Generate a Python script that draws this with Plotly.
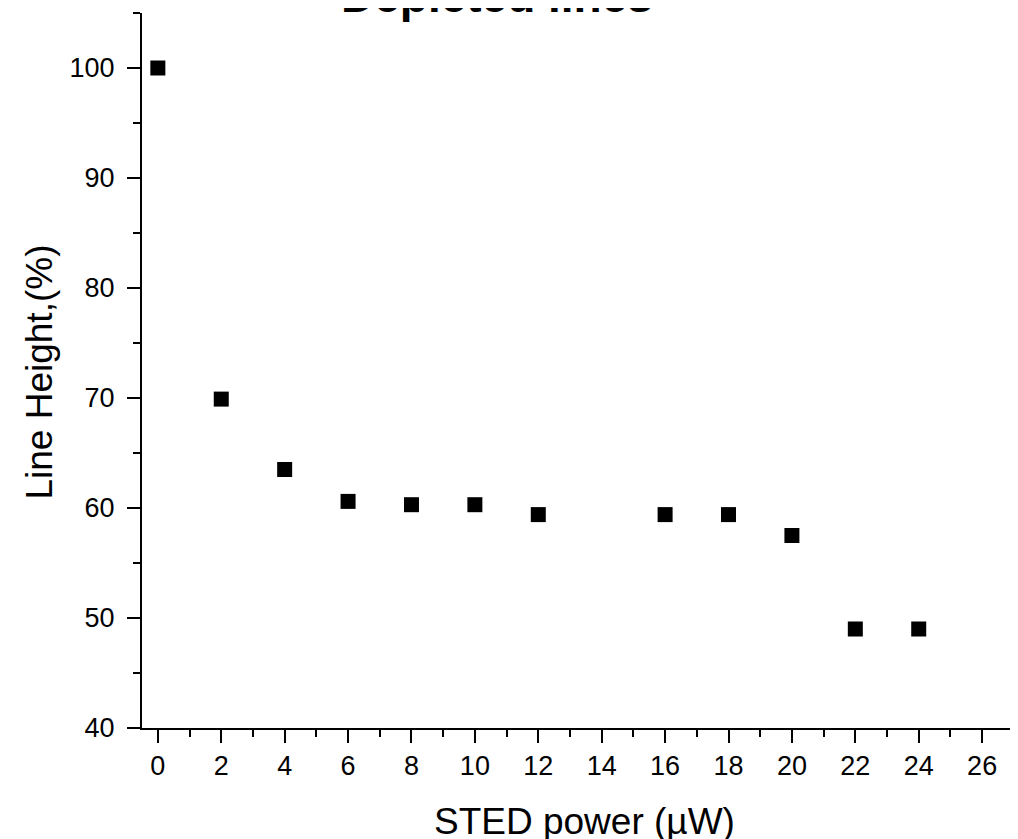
import plotly.graph_objects as go

sted_power = [0, 2, 4, 6, 8, 10, 12, 16, 18, 20, 22, 24]
line_height = [100, 69.9, 63.5, 60.6, 60.3, 60.3, 59.4, 59.4, 59.4, 57.5, 49.0, 49.0]

x_ticks = list(range(0, 27, 2))
y_ticks = [40, 50, 60, 70, 80, 90, 100]

FONT = "Liberation Sans, Arial, sans-serif"

fig = go.Figure()
fig.add_trace(go.Scatter(
    x=sted_power, y=line_height, mode="markers",
    marker=dict(symbol="square", size=15, color="black", line=dict(width=0)),
    cliponaxis=False, showlegend=False,
))

axis_common = dict(
    showline=True, linecolor="black", linewidth=2,
    ticks="outside", ticklen=13, tickwidth=2, tickcolor="black",
    showgrid=False, zeroline=False, mirror=False, automargin=False,
    tickfont=dict(family=FONT, size=27, color="black"),
)

fig.update_xaxes(
    range=[-0.5, 27.1], tickmode="array", tickvals=x_ticks,
    minor=dict(dtick=1, tick0=0, ticks="outside", ticklen=7, tickwidth=2, tickcolor="black"),
    **axis_common,
)
fig.update_yaxes(
    range=[40, 105], tickmode="array", tickvals=y_ticks, ticklabelstandoff=7,
    minor=dict(dtick=5, tick0=0, ticks="outside", ticklen=7, tickwidth=2, tickcolor="black"),
    **axis_common,
)

fig.add_annotation(
    text="STED power (µW)", xref="paper", yref="paper",
    x=0.506, y=-0.131, xanchor="center", yanchor="middle", showarrow=False,
    font=dict(family=FONT, size=37, color="black"),
)
fig.add_annotation(
    text="Line Height,(%)", xref="paper", yref="paper", textangle=-90,
    x=-0.117, y=0.498, xanchor="center", yanchor="middle", showarrow=False,
    font=dict(family=FONT, size=37, color="black"),
)
fig.add_annotation(
    text="<b>Depleted lines</b>", xref="paper", yref="paper",
    x=0.406, y=1.024, xanchor="center", yanchor="middle", showarrow=False,
    font=dict(family=FONT, size=46, color="black"),
)

# page body has an 8px default margin, so margins are offset by 8px
fig.update_layout(
    width=1018, height=839,
    margin=dict(l=134, r=9, t=5, b=119),
    plot_bgcolor="white", paper_bgcolor="white",
)

fig.write_html("out.html")
